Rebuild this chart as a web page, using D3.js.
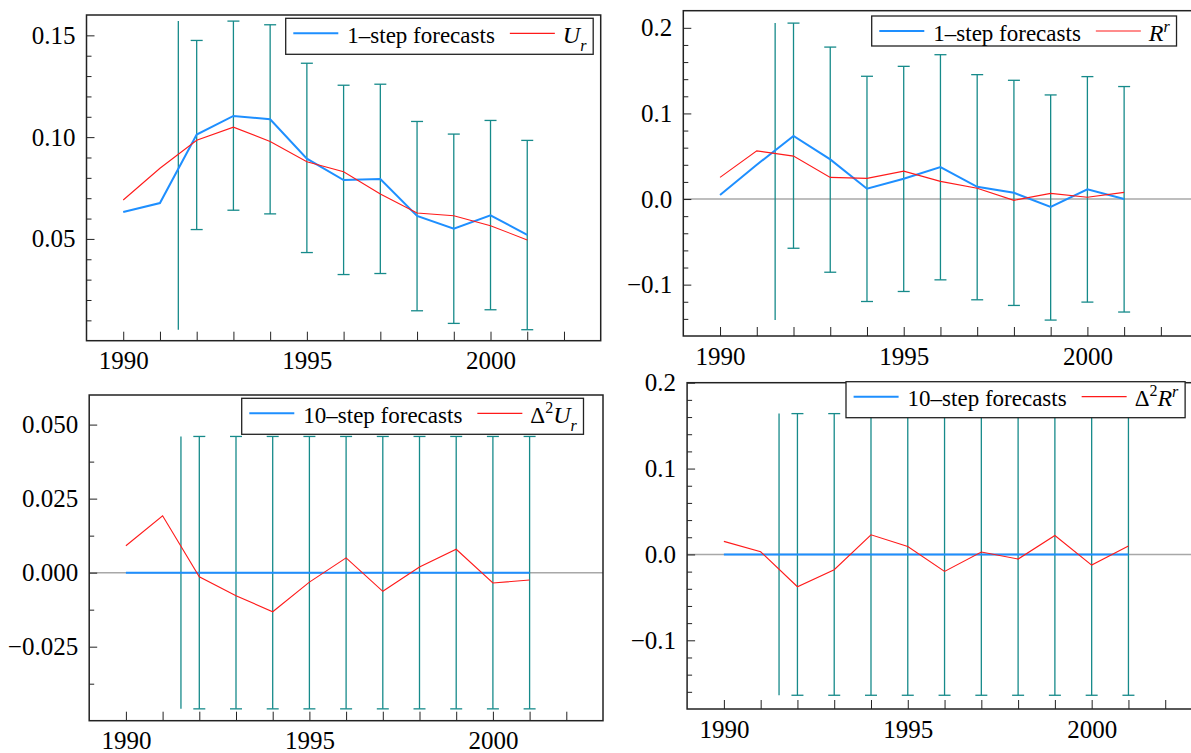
<!DOCTYPE html>
<html>
<head>
<meta charset="utf-8">
<script src="https://cdn.jsdelivr.net/npm/d3@7"></script>
</head>
<body style="margin:0;background:#fff">
<svg width="1191" height="753" style="display:block"></svg>
<script>
// years of the plotted series and of the forecast error bars
const years = [1990, 1991, 1992, 1993, 1994, 1995, 1996, 1997, 1998, 1999, 2000, 2001];
const barYears = [1992, 1993, 1994, 1995, 1996, 1997, 1998, 1999, 2000, 2001];

// 1-step forecasts vs U_r
const fcU = [0.0632, 0.0676, 0.1013, 0.1104, 0.1088, 0.0894, 0.0789, 0.0794, 0.0613, 0.0550, 0.0616, 0.0520];
const actU = [0.0691, 0.0847, 0.0985, 0.1049, 0.0979, 0.0879, 0.0830, 0.0721, 0.0627, 0.0614, 0.0565, 0.0495];
const hiU = [0.1475, 0.1570, 0.1552, 0.1363, 0.1255, 0.1260, 0.1077, 0.1015, 0.1082, 0.0984];
const loU = [0.0546, 0.0641, 0.0623, 0.0433, 0.0325, 0.0330, 0.0147, 0.0085, 0.0152, 0.0054];

// 1-step forecasts vs R^r
const fcR = [0.0047, 0.0400, 0.0738, 0.0463, 0.0120, 0.0237, 0.0373, 0.0143, 0.0073, -0.0093, 0.0113, 0.0000];
const actR = [0.0253, 0.0563, 0.0501, 0.0253, 0.0241, 0.0326, 0.0206, 0.0125, -0.0015, 0.0066, 0.0020, 0.0078];
const hiR = [0.2055, 0.1775, 0.1434, 0.1550, 0.1686, 0.1453, 0.1387, 0.1216, 0.1430, 0.1314];
const loR = [-0.0575, -0.0855, -0.1197, -0.1080, -0.0944, -0.1177, -0.1243, -0.1414, -0.1204, -0.1320];

// 10-step forecasts vs Δ²U_r
const fcDU = [0, 0, 0, 0, 0, 0, 0, 0, 0, 0, 0, 0];
const actDU = [0.0091, 0.0192, -0.0014, -0.0078, -0.0132, -0.0032, 0.0050, -0.0063, 0.0019, 0.0079, -0.0035, -0.0025];
const hiDU = [0.046, 0.046, 0.046, 0.046, 0.046, 0.046, 0.046, 0.046, 0.046, 0.046];
const loDU = [-0.046, -0.046, -0.046, -0.046, -0.046, -0.046, -0.046, -0.046, -0.046, -0.046];

// 10-step forecasts vs Δ²R^r
const fcDR = [0, 0, 0, 0, 0, 0, 0, 0, 0, 0, 0, 0];
const actDR = [0.0152, 0.0031, -0.0376, -0.0178, 0.0229, 0.0093, -0.0198, 0.0028, -0.0054, 0.0221, -0.0124, 0.0098];
const hiDR = [0.164, 0.164, 0.164, 0.164, 0.164, 0.164, 0.164, 0.164, 0.164, 0.164];
const loDR = [-0.164, -0.164, -0.164, -0.164, -0.164, -0.164, -0.164, -0.164, -0.164, -0.164];

const xTicks = [1990, 1991, 1992, 1993, 1994, 1995, 1996, 1997, 1998, 1999, 2000, 2001, 2002];

const SERIF = 'Liberation Serif';
const BLUE = '#1e8fff';
const RED = '#ff1a1a';
const TEAL = '#168a8a';
const FRAME = '#222';

const panels = [
  { left: 86.5, right: 600.7, top: 15, bottom: 340.7, yDomain: [0, 0.16],
    major: [0.05, 0.10, 0.15], minorStep: 0.01, fmt: '.2f',
    fc: fcU, act: actU, hi: hiU, lo: loU,
    legend: { x: 285.7, y: 18.3, label: '1–step forecasts', sym: 'Ur' } },
  { left: 683.3, right: 1197.6, top: 10.7, bottom: 336, yDomain: [-0.16, 0.22],
    major: [-0.1, 0, 0.1, 0.2], minorStep: 0.02, fmt: '.1f',
    fc: fcR, act: actR, hi: hiR, lo: loR,
    legend: { x: 871.7, y: 16, label: '1–step forecasts', sym: 'Rr' } },
  { left: 89.2, right: 603, top: 395, bottom: 720.7, yDomain: [-0.05, 0.06],
    major: [-0.025, 0, 0.025, 0.05], minorStep: 0.0125, fmt: '.3f',
    fc: fcDU, act: actDU, hi: hiDU, lo: loDU,
    legend: { x: 241.7, y: 398.3, label: '10–step forecasts', sym: 'dUr' } },
  { left: 687.1, right: 1202, top: 382.7, bottom: 709, yDomain: [-0.18, 0.2],
    major: [-0.1, 0, 0.1, 0.2], minorStep: 0.02, fmt: '.1f',
    fc: fcDR, act: actDR, hi: hiDR, lo: loDR,
    legend: { x: 846, y: 381.7, label: '10–step forecasts', sym: 'dRr' } },
];

const svg = d3.select('svg');

function symbolText(t, kind) {
  const it = (s, size, dy) => t.append('tspan').attr('font-style', 'italic')
    .attr('font-size', size).attr('dy', dy).text(s);
  const up = (s, size, dy) => t.append('tspan').attr('font-size', size).attr('dy', dy).text(s);
  if (kind === 'Ur') { it('U', 24, 0); it('r', 16, 8); }
  if (kind === 'Rr') { it('R', 24, 0); it('r', 16, -9); }
  if (kind === 'dUr') { up('Δ', 23, 0); up('2', 16, -10); it('U', 24, 10); it('r', 16, 8); }
  if (kind === 'dRr') { up('Δ', 23, 0); up('2', 16, -10); it('R', 24, 10); it('r', 16, -9); }
}

function drawLegend(lg, hasSub) {
  const g = svg.append('g').attr('transform', `translate(${lg.x},${lg.y})`);
  const box = g.append('rect').attr('fill', '#fff').attr('stroke', FRAME).attr('stroke-width', 1.3);
  g.append('line').attr('x1', 7.6).attr('x2', 52.6).attr('y1', 15).attr('y2', 15)
    .attr('stroke', BLUE).attr('stroke-width', 2);
  const label = g.append('text').attr('x', 61.6).attr('y', 24.5)
    .attr('font-family', SERIF).attr('font-size', 23).text(lg.label);
  const tEnd = 61.6 + label.node().getComputedTextLength();
  g.append('line').attr('x1', tEnd + 15).attr('x2', tEnd + 60).attr('y1', 15).attr('y2', 15)
    .attr('stroke', RED).attr('stroke-width', 1.2);
  const sym = g.append('text').attr('x', tEnd + 68).attr('y', 24.5)
    .attr('font-family', SERIF).attr('font-size', 23);
  symbolText(sym, lg.sym);
  const bb = sym.node().getBBox();
  box.attr('x', 0).attr('y', 0).attr('width', bb.x + bb.width + 6).attr('height', hasSub ? 36 : 30);
}

panels.forEach((p) => {
  const x = d3.scaleLinear().domain([1989, 2003]).range([p.left, p.right]);
  const y = d3.scaleLinear().domain(p.yDomain).range([p.bottom, p.top]);
  const g = svg.append('g');

  if (p.yDomain[0] < 0) {
    g.append('line').attr('x1', p.left).attr('x2', p.right).attr('y1', y(0)).attr('y2', y(0))
      .attr('stroke', '#a8a8a8').attr('stroke-width', 1.5);
  }

  // forecast start marker: spans the whole error band
  const xs = barYears[0] - 0.5;
  g.append('line').attr('x1', x(xs)).attr('x2', x(xs))
    .attr('y1', y(d3.max(p.hi))).attr('y2', y(d3.min(p.lo)))
    .attr('stroke', TEAL).attr('stroke-width', 1.3);

  const bars = g.selectAll('.bar').data(barYears.map((yr, i) => ({ yr, hi: p.hi[i], lo: p.lo[i] })))
    .enter().append('g').classed('bar', true)
    .attr('stroke', TEAL).attr('stroke-width', 1.3);
  bars.append('line').attr('x1', (d) => x(d.yr)).attr('x2', (d) => x(d.yr))
    .attr('y1', (d) => y(d.hi)).attr('y2', (d) => y(d.lo));
  bars.append('line').attr('x1', (d) => x(d.yr) - 6).attr('x2', (d) => x(d.yr) + 6)
    .attr('y1', (d) => y(d.hi)).attr('y2', (d) => y(d.hi));
  bars.append('line').attr('x1', (d) => x(d.yr) - 6).attr('x2', (d) => x(d.yr) + 6)
    .attr('y1', (d) => y(d.lo)).attr('y2', (d) => y(d.lo));

  const line = d3.line().x((d, i) => x(years[i])).y((d) => y(d));
  g.append('path').datum(p.fc).attr('d', line).attr('fill', 'none')
    .attr('stroke', BLUE).attr('stroke-width', 2);
  g.append('path').datum(p.act).attr('d', line).attr('fill', 'none')
    .attr('stroke', RED).attr('stroke-width', 1.1);

  // axes (ticks point inside the frame)
  const minor = d3.range(p.yDomain[0], p.yDomain[1] + 1e-9, p.minorStep)
    .map((v) => Math.round(v / p.minorStep) * p.minorStep)
    .filter((v) => v > p.yDomain[0] + 1e-9 && v < p.yDomain[1] - 1e-9)
    .filter((v) => !p.major.some((m) => Math.abs(m - v) < 1e-9));

  g.append('g').attr('transform', `translate(${p.left},0)`)
    .call(d3.axisLeft(y).tickValues(minor).tickSize(-5).tickFormat(''))
    .call((a) => a.select('.domain').remove())
    .call((a) => a.selectAll('line').attr('stroke', FRAME));

  g.append('g').attr('transform', `translate(${p.left},0)`)
    .call(d3.axisLeft(y).tickValues(p.major).tickSize(-8).tickPadding(11).tickFormat(d3.format(p.fmt)))
    .attr('font-family', SERIF).attr('font-size', 25)
    .call((a) => a.select('.domain').remove())
    .call((a) => a.selectAll('line').attr('stroke', FRAME))
    .call((a) => a.selectAll('text').attr('font-family', SERIF));

  g.append('g').attr('transform', `translate(0,${p.bottom})`)
    .call(d3.axisBottom(x).tickValues(xTicks).tickSize(-9).tickPadding(11)
      .tickFormat((d) => (d % 5 === 0 ? d : '')))
    .attr('font-family', SERIF).attr('font-size', 25)
    .call((a) => a.select('.domain').remove())
    .call((a) => a.selectAll('line').attr('stroke', FRAME))
    .call((a) => a.selectAll('text').attr('font-family', SERIF));

  g.append('rect').attr('x', p.left).attr('y', p.top)
    .attr('width', p.right - p.left).attr('height', p.bottom - p.top)
    .attr('fill', 'none').attr('stroke', FRAME).attr('stroke-width', 1.5);

  drawLegend(p.legend, p.legend.sym !== 'Rr');
});
</script>
</body>
</html>
